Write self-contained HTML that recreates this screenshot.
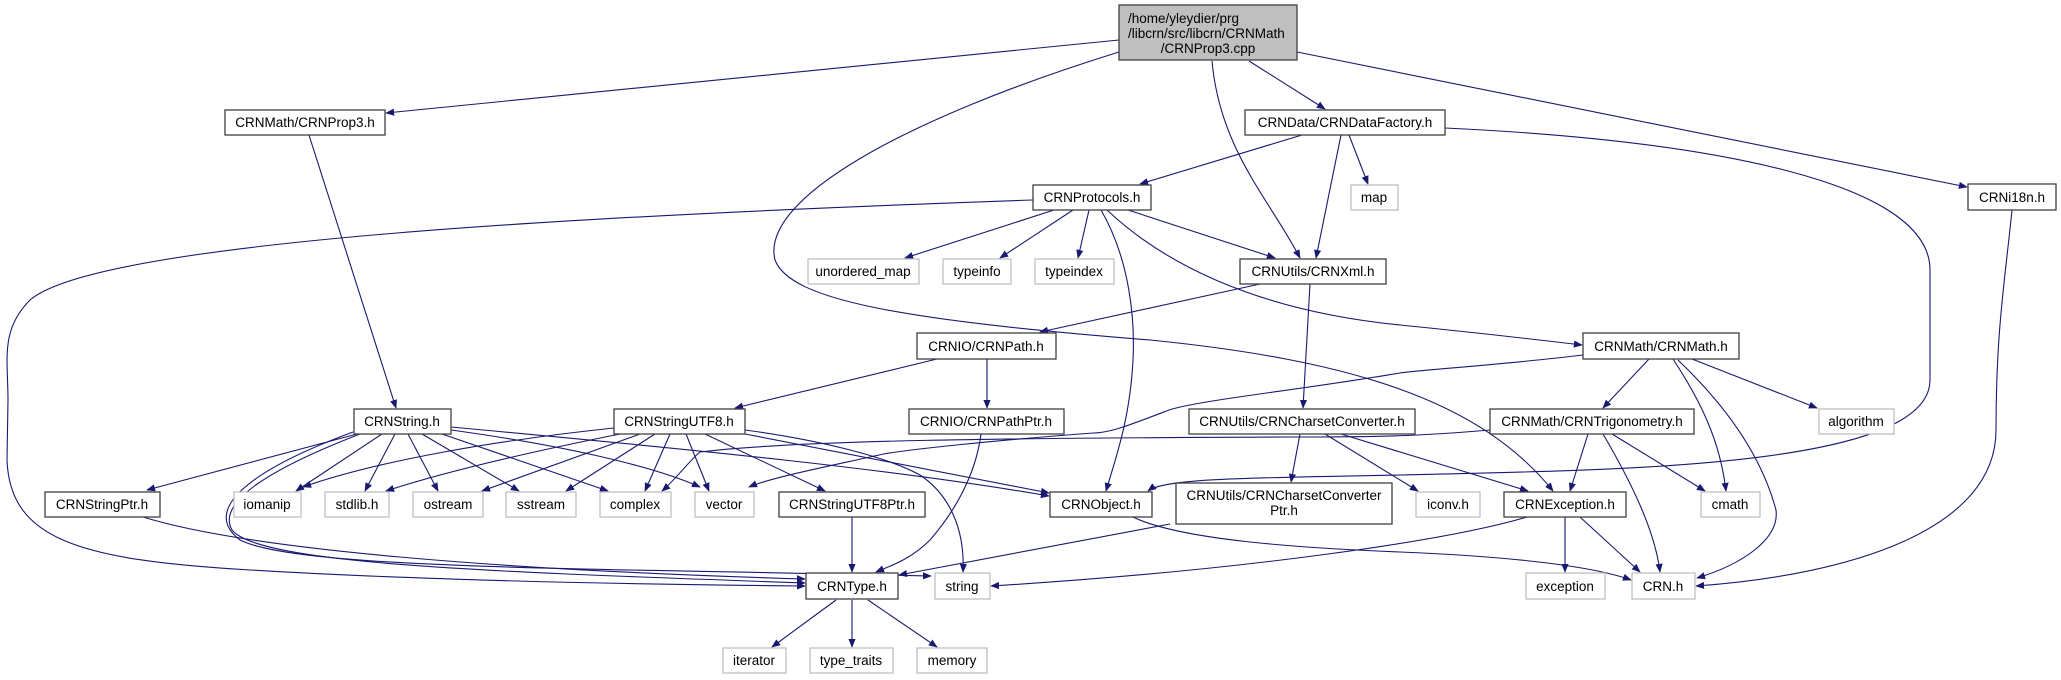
<!DOCTYPE html>
<html><head><meta charset="utf-8"><style>
html,body{margin:0;padding:0;background:#fff;}
svg{display:block;}
text{font-family:"Liberation Sans",sans-serif;font-size:13.5px;fill:#000;}
.e{fill:none;stroke:#191970;stroke-width:1.1;}
.n{fill:#fff;stroke:#404040;stroke-width:1.3;}
.s{fill:#fff;stroke:#bfbfbf;stroke-width:1.3;}
</style></head><body>
<svg width="2061" height="680" viewBox="0 0 2061 680" xmlns="http://www.w3.org/2000/svg">
<defs><marker id="a" viewBox="0 0 10 10" refX="9" refY="5" markerWidth="9" markerHeight="9" markerUnits="userSpaceOnUse" orient="auto"><path d="M0,1 L10,5 L0,9 z" fill="#191970"/></marker></defs>
<g marker-end="url(#a)">
<path class="e" d="M1119,40 L386,113"/>
<path class="e" d="M1119,52 C900,120 760,200 775,260 C790,300 900,320 1150,340 C1350,360 1480,400 1553,491"/>
<path class="e" d="M1212,61 C1220,150 1270,200 1300,258"/>
<path class="e" d="M1249,61 L1325,109"/>
<path class="e" d="M1297,52 L1967,187"/>
<path class="e" d="M1302,135 L1140,184"/>
<path class="e" d="M1341,135 L1316,258"/>
<path class="e" d="M1349,135 L1368,184"/>
<path class="e" d="M1445,128 C1700,140 1930,180 1930,270 L1930,380 C1930,470 1600,470 1400,475 C1250,478 1165,478 1148,491"/>
<path class="e" d="M2012,210 C2005,280 1996,330 1996,430 C1996,530 1850,575 1696,586"/>
<path class="e" d="M309,135 L396,408"/>
<path class="e" d="M1033,200 C600,215 100,240 30,300 C0,330 8,360 8,400 L7,460 C10,540 80,560 250,570 C450,582 700,585 805,586"/>
<path class="e" d="M1054,210 L905,258"/>
<path class="e" d="M1073,210 L1000,258"/>
<path class="e" d="M1089,210 L1078,258"/>
<path class="e" d="M1128,210 L1275,258"/>
<path class="e" d="M1101,210 C1130,260 1135,320 1133,360 C1130,420 1115,460 1106,491"/>
<path class="e" d="M1107,210 C1160,260 1250,310 1400,325 C1480,333 1540,340 1582,345"/>
<path class="e" d="M1260,284 L1040,332"/>
<path class="e" d="M1310,284 L1303,408"/>
<path class="e" d="M937,359 L735,408"/>
<path class="e" d="M987,359 L987,408"/>
<path class="e" d="M981,434 C975,480 950,517 930,540 C910,560 890,566 876,572"/>
<path class="e" d="M1583,355 C1500,365 1420,370 1400,373 C1300,390 1200,400 1169,410 C1130,425 1110,433 1093,433 C1000,440 900,450 879,455 C820,468 770,478 749,487"/>
<path class="e" d="M1490,430 C1420,436 1380,437 1300,437 C1000,438 800,440 700,452 C690,460 675,480 662,491"/>
<path class="e" d="M1649,359 L1603,408"/>
<path class="e" d="M1673,359 C1700,400 1720,440 1726,491"/>
<path class="e" d="M1678,360 C1720,400 1760,450 1776,510 C1780,540 1740,565 1697,578"/>
<path class="e" d="M1692,359 L1817,408"/>
<path class="e" d="M1300,434 L1291,482"/>
<path class="e" d="M1325,434 L1418,491"/>
<path class="e" d="M1341,434 L1528,491"/>
<path class="e" d="M1588,434 L1570,491"/>
<path class="e" d="M1603,434 C1630,480 1655,530 1660,572"/>
<path class="e" d="M1612,434 L1705,491"/>
<path class="e" d="M1565,517 L1565,572"/>
<path class="e" d="M1580,517 L1640,572"/>
<path class="e" d="M1527,517 C1450,540 1250,570 991,586"/>
<path class="e" d="M1133,517 C1180,540 1300,548 1400,552 C1500,556 1590,565 1631,580"/>
<path class="e" d="M1170,524 L899,575"/>
<path class="e" d="M852,517 L852,572"/>
<path class="e" d="M836,600 L772,647"/>
<path class="e" d="M852,600 L852,647"/>
<path class="e" d="M868,600 L937,647"/>
<path class="e" d="M357,434 L147,490"/>
<path class="e" d="M382,434 L296,491"/>
<path class="e" d="M395,434 L365,491"/>
<path class="e" d="M408,434 L438,491"/>
<path class="e" d="M422,434 L519,491"/>
<path class="e" d="M442,434 L608,491"/>
<path class="e" d="M451,430 C560,445 650,465 700,487"/>
<path class="e" d="M451,427 C700,450 900,470 1049,496"/>
<path class="e" d="M353,432 C250,470 200,510 240,540 C300,570 600,568 931,576"/>
<path class="e" d="M360,434 C280,465 215,500 232,530 C260,565 500,572 805,583"/>
<path class="e" d="M143,517 C250,550 500,570 805,579"/>
<path class="e" d="M614,428 C500,440 380,460 303,487"/>
<path class="e" d="M620,434 C540,450 450,470 386,491"/>
<path class="e" d="M640,434 L482,491"/>
<path class="e" d="M655,434 L566,491"/>
<path class="e" d="M670,434 L645,491"/>
<path class="e" d="M686,434 L709,491"/>
<path class="e" d="M705,434 L825,491"/>
<path class="e" d="M745,434 L1049,493"/>
<path class="e" d="M745,430 C820,440 887,457 920,475 C950,495 965,530 963,572"/>
</g>
<rect x="1119" y="5" width="178" height="55" fill="#bfbfbf" stroke="#404040" stroke-width="1.3"/>
<text x="1128" y="23">/home/yleydier/prg</text>
<text x="1128" y="38">/libcrn/src/libcrn/CRNMath</text>
<text x="1208" y="53" text-anchor="middle">/CRNProp3.cpp</text>
<g text-anchor="middle">
<rect class="n" x="225" y="110" width="160" height="25"/><text x="305" y="127">CRNMath/CRNProp3.h</text>
<rect class="n" x="1245" y="110" width="200" height="25"/><text x="1345" y="127">CRNData/CRNDataFactory.h</text>
<rect class="n" x="1968" y="184" width="88" height="26"/><text x="2012" y="202">CRNi18n.h</text>
<rect class="n" x="1033" y="185" width="118" height="25"/><text x="1092" y="202">CRNProtocols.h</text>
<rect class="s" x="1351" y="185" width="47" height="25"/><text x="1374" y="202">map</text>
<rect class="s" x="808" y="259" width="111" height="25"/><text x="863" y="276">unordered_map</text>
<rect class="s" x="943" y="259" width="68" height="25"/><text x="977" y="276">typeinfo</text>
<rect class="s" x="1035" y="259" width="79" height="25"/><text x="1074" y="276">typeindex</text>
<rect class="n" x="1240" y="259" width="146" height="25"/><text x="1313" y="276">CRNUtils/CRNXml.h</text>
<rect class="n" x="917" y="333" width="139" height="26"/><text x="986" y="351">CRNIO/CRNPath.h</text>
<rect class="n" x="1583" y="333" width="156" height="26"/><text x="1661" y="351">CRNMath/CRNMath.h</text>
<rect class="n" x="354" y="409" width="97" height="25"/><text x="402" y="426">CRNString.h</text>
<rect class="n" x="614" y="409" width="131" height="25"/><text x="679" y="426">CRNStringUTF8.h</text>
<rect class="n" x="909" y="409" width="155" height="25"/><text x="986" y="426">CRNIO/CRNPathPtr.h</text>
<rect class="n" x="1189" y="409" width="226" height="25"/><text x="1302" y="426">CRNUtils/CRNCharsetConverter.h</text>
<rect class="n" x="1490" y="409" width="204" height="25"/><text x="1592" y="426">CRNMath/CRNTrigonometry.h</text>
<rect class="s" x="1819" y="409" width="75" height="25"/><text x="1856" y="426">algorithm</text>
<rect class="n" x="45" y="492" width="115" height="25"/><text x="102" y="509">CRNStringPtr.h</text>
<rect class="s" x="234" y="492" width="67" height="25"/><text x="267" y="509">iomanip</text>
<rect class="s" x="325" y="492" width="64" height="25"/><text x="357" y="509">stdlib.h</text>
<rect class="s" x="413" y="492" width="70" height="25"/><text x="448" y="509">ostream</text>
<rect class="s" x="506" y="492" width="70" height="25"/><text x="541" y="509">sstream</text>
<rect class="s" x="600" y="492" width="71" height="25"/><text x="635" y="509">complex</text>
<rect class="s" x="695" y="492" width="59" height="25"/><text x="724" y="509">vector</text>
<rect class="n" x="779" y="492" width="146" height="25"/><text x="852" y="509">CRNStringUTF8Ptr.h</text>
<rect class="n" x="1050" y="492" width="102" height="25"/><text x="1101" y="509">CRNObject.h</text>
<rect class="n" x="1176" y="483" width="216" height="41"/><text x="1284" y="500">CRNUtils/CRNCharsetConverter</text><text x="1284" y="515">Ptr.h</text>
<rect class="s" x="1416" y="492" width="64" height="25"/><text x="1448" y="509">iconv.h</text>
<rect class="n" x="1504" y="492" width="122" height="25"/><text x="1565" y="509">CRNException.h</text>
<rect class="s" x="1701" y="492" width="59" height="25"/><text x="1730" y="509">cmath</text>
<rect class="n" x="806" y="573" width="92" height="26"/><text x="852" y="591">CRNType.h</text>
<rect class="s" x="935" y="573" width="55" height="26"/><text x="962" y="591">string</text>
<rect class="s" x="1526" y="573" width="79" height="26"/><text x="1565" y="591">exception</text>
<rect class="s" x="1632" y="573" width="63" height="26"/><text x="1663" y="591">CRN.h</text>
<rect class="s" x="723" y="648" width="63" height="25"/><text x="754" y="665">iterator</text>
<rect class="s" x="810" y="648" width="83" height="25"/><text x="851" y="665">type_traits</text>
<rect class="s" x="917" y="648" width="70" height="25"/><text x="952" y="665">memory</text>
</g>
</svg>
</body></html>
